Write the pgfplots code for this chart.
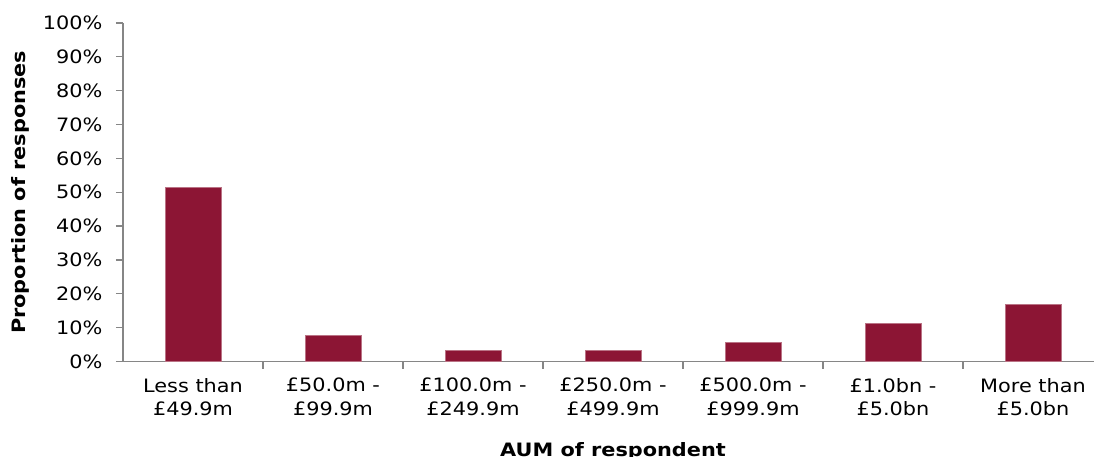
\documentclass[border=0pt]{standalone}
\usepackage{pgfplots}
\pgfplotsset{compat=1.18}
\usepackage{fontspec}
\setmainfont{DejaVu Sans}[FakeStretch=1.13]
\definecolor{barred}{RGB}{140,21,52}
\definecolor{axgray}{RGB}{134,134,134}

\begin{document}
\begin{tikzpicture}
\useasboundingbox (0,0) rectangle (1094bp,457bp);
\begin{axis}[
  at={(123bp,95.5bp)}, anchor=south west,
  scale only axis, width=980bp, height=338.5bp,
  xmin=-0.5, xmax=6.5, ymin=0, ymax=100,
  axis x line=bottom, axis y line=left,
  axis line style={-, axgray, line width=1.5bp},
  tick style={axgray, line width=1.2bp},
  tick align=outside,
  major tick length=7bp, minor tick length=7bp,
  xtick={0,...,6},
  x tick style={draw=none},
  minor xtick={0.5,1.5,...,5.5},
  minor x tick style={draw=axgray},
  xticklabels={{Less than\\£49.9m},{£50.0m -\\£99.9m},{£100.0m -\\£249.9m},
    {£250.0m -\\£499.9m},{£500.0m -\\£999.9m},{£1.0bn -\\£5.0bn},{More than\\£5.0bn}},
  xticklabel style={font=\fontsize{18.5}{24}\selectfont, align=center, yshift=-6bp},
  ytick={0,10,...,100},
  yticklabels={0\%,10\%,20\%,30\%,40\%,50\%,60\%,70\%,80\%,90\%,100\%},
  yticklabel style={font=\fontsize{18.5}{22}\selectfont, xshift=-10bp},
  xlabel={AUM of respondent},
  xlabel style={font=\bfseries\fontsize{18.5}{22}\selectfont,
    at={(axis description cs:0.5,0)}, anchor=center, yshift=-90bp},
  ylabel={Proportion of responses},
  ylabel style={font=\bfseries\fontsize{18.5}{22}\selectfont,
    at={(axis description cs:-0.105,0.5)}, anchor=center},
  ybar, bar width=56bp,
]
\addplot[fill=barred, draw=barred!60!white, line width=0.6bp] coordinates
  {(0,51.5) (1,7.7) (2,3.3) (3,3.3) (4,5.6) (5,11.2) (6,16.9)};
\end{axis}
\end{tikzpicture}
\end{document}
